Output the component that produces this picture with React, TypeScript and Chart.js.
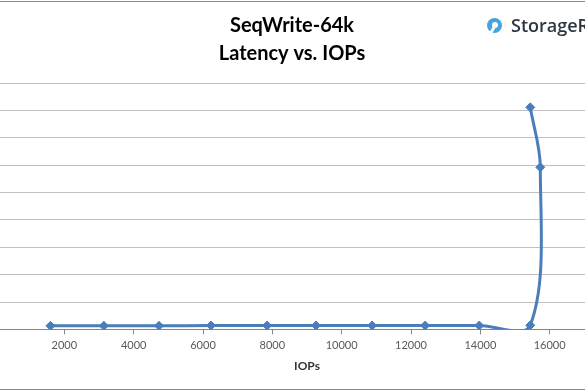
import React, { useEffect, useRef } from 'react';
import { Chart, registerables } from 'chart.js';

Chart.register(...registerables);

// ---- data ----
const iops = [1600, 3140, 4730, 6230, 7850, 9260, 10880, 12410, 13970, 15440, 15730, 15440];
const latencyMs = [1.3, 1.3, 1.3, 1.4, 1.4, 1.4, 1.4, 1.4, 1.4, 1.5, 59.2, 81.1];
const titleLines = ['SeqWrite-64k', 'Latency vs. IOPs'];
const xAxisTitle = 'IOPs';
const xMin = 0;
const xMax = 18000;
const xStep = 2000;
const yMin = 0;
const yMax = 90;
const yStep = 10;
const logoText = 'StorageReview';

const BLUE = '#4a7ebb';

export default function App() {
  const ref = useRef<HTMLCanvasElement | null>(null);

  useEffect(() => {
    if (!ref.current) return;
    const points = iops.map((x, i) => ({ x, y: latencyMs[i] }));
    const chart = new Chart(ref.current, {
      type: 'scatter',
      data: {
        datasets: [
          {
            data: points,
            showLine: true,
            borderColor: BLUE,
            backgroundColor: BLUE,
            borderWidth: 3,
            tension: 0.35,
            pointStyle: 'rectRot',
            pointRadius: 4.5,
            pointBorderWidth: 1,
            pointBorderColor: BLUE,
            pointBackgroundColor: BLUE,
          },
        ],
      },
      options: {
        animation: false,
        responsive: false,
        devicePixelRatio: 1,
        elements: { line: { capBezierPoints: false } },
        layout: { padding: { left: 0, right: 26, top: 0, bottom: 17 } },
        plugins: {
          legend: { display: false },
          tooltip: { enabled: false },
          title: {
            display: true,
            text: titleLines,
            color: '#000000',
            font: { family: 'Lato', size: 20, weight: 'bold', lineHeight: 1.4 },
            padding: { top: 12, bottom: 15 },
          },
        },
        scales: {
          x: {
            type: 'linear',
            min: xMin,
            max: xMax,
            ticks: {
              stepSize: xStep,
              color: '#595959',
              font: { family: 'Lato', size: 11 },
              padding: 4,
              maxRotation: 0,
              callback: (v: any) => String(v),
            },
            grid: {
              drawOnChartArea: false,
              drawTicks: true,
              tickLength: 5,
              tickColor: '#888888',
            },
            border: { display: true, color: '#868686', width: 1 },
            title: {
              display: true,
              text: xAxisTitle,
              color: '#333333',
              font: { family: 'Lato', size: 12, weight: 'bold' },
              padding: { top: 3, bottom: 0 },
            },
          },
          y: {
            type: 'linear',
            min: yMin,
            max: yMax,
            ticks: { stepSize: yStep, display: false },
            grid: { color: '#c0c0c0', drawTicks: false },
            border: { display: false },
            afterFit: (s: any) => {
              s.width = 30;
            },
          },
        },
      },
    });
    return () => chart.destroy();
  }, []);

  return (
    <div
      style={{
        position: 'fixed',
        left: 0,
        top: 0,
        width: 585,
        height: 390,
        overflow: 'hidden',
        background: '#ffffff',
      }}
    >
      <div
        style={{
          position: 'absolute',
          left: -35,
          top: 1,
          width: 680,
          height: 389,
          boxSizing: 'border-box',
          borderTop: '1px solid #8a8a8a',
          borderBottom: '1px solid #8a8a8a',
        }}
      />
      <canvas
        ref={ref}
        width={680}
        height={390}
        style={{ position: 'absolute', left: -35, top: 0, width: 680, height: 390 }}
      />
      <div
        style={{
          position: 'absolute',
          left: 487,
          top: 18,
          width: 15,
          height: 15,
          borderRadius: '50%',
          background: '#45a3e0',
        }}
      >
        <div
          style={{
            position: 'absolute',
            left: 4.5,
            top: 4,
            width: 6,
            height: 6,
            borderRadius: '50%',
            background: '#ffffff',
          }}
        />
        <div
          style={{
            position: 'absolute',
            left: 3.5,
            top: 8.5,
            width: 3,
            height: 6,
            background: '#ffffff',
            transform: 'rotate(30deg)',
          }}
        />
      </div>
      <div
        style={{
          position: 'absolute',
          left: 511,
          top: 13,
          fontFamily: "'Open Sans', sans-serif",
          fontWeight: 600,
          fontSize: 18,
          color: '#2b3640',
          whiteSpace: 'nowrap',
          lineHeight: '24px',
        }}
      >
        {logoText}
      </div>
    </div>
  );
}
